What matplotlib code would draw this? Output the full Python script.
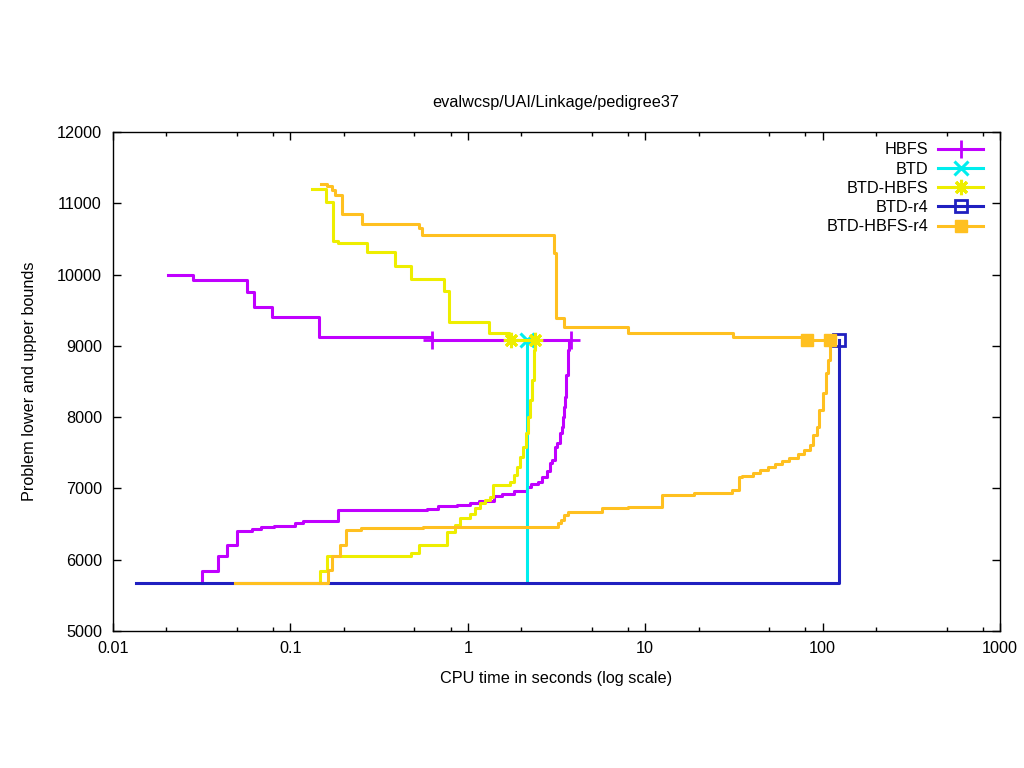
import numpy as np
import matplotlib
matplotlib.use("Agg")
import matplotlib.pyplot as plt
from matplotlib.lines import Line2D
from matplotlib.ticker import LogLocator, FixedLocator, FuncFormatter, NullFormatter

plt.rcParams['font.family'] = ['Liberation Sans', 'DejaVu Sans']

# ---- data (time in s, bound value) ----
hbfs_up_t = [0.0204, 0.0282, 0.0569, 0.0623, 0.0788, 0.145, 0.63, 3.8]
hbfs_up_v = [10000, 9930, 9756, 9545, 9405, 9125, 9083, 9083]
hbfs_lo_t = [0.0317, 0.0317, 0.0391, 0.044, 0.050, 0.0606, 0.068, 0.081, 0.106, 0.118,
             0.186, 0.59, 0.68, 0.87, 1.03, 1.16, 1.40, 1.56, 1.83, 2.17, 2.28, 2.5,
             2.62, 2.78, 2.9, 3.0, 3.1, 3.2, 3.3, 3.4, 3.45, 3.5, 3.55, 3.6, 3.66, 3.74, 3.8]
hbfs_lo_v = [5680, 5843, 6053, 6207, 6404, 6432, 6460, 6474, 6516, 6544,
             6699, 6713, 6755, 6769, 6797, 6825, 6895, 6923, 6965, 7021, 7063, 7091,
             7160, 7245, 7357, 7400, 7582, 7638, 7778, 7862, 8000, 8143, 8283, 8590, 8940, 9083, 9083]
hbfs_mark_t = [0.63, 3.8]

btd_t = [2.16, 2.16]
btd_v = [5675, 9083]
btd_mark_t = [2.16]

bh_up_t = [0.132, 0.158, 0.174, 0.186, 0.27, 0.39, 0.48, 0.73, 0.785, 1.32, 1.70, 2.4]
bh_up_v = [11200, 11020, 10470, 10440, 10320, 10120, 9940, 9770, 9335, 9180, 9083, 9083]
bh_lo_t = [0.147, 0.147, 0.161, 0.48, 0.53, 0.764, 0.847, 0.90, 1.03, 1.10, 1.17, 1.25,
           1.33, 1.38, 1.72, 1.83, 1.89, 1.96, 2.04, 2.12, 2.18, 2.24, 2.29, 2.36, 2.4]
bh_lo_v = [5680, 5843, 6053, 6095, 6207, 6390, 6488, 6586, 6642, 6727, 6797, 6839,
           6881, 7049, 7091, 7190, 7300, 7442, 7582, 7778, 8000, 8240, 8520, 8940, 9083]
bh_mark_t = [1.76, 2.4]

r4_t = [0.0135, 124, 124]
r4_v = [5675, 5675, 9083]
r4_mark_t = [124]

bhr4_up_t = [0.149, 0.16, 0.171, 0.178, 0.195, 0.253, 0.53, 0.55, 3.06, 3.16, 3.5,
             7.98, 31.3, 81.8, 110]
bhr4_up_v = [11270, 11240, 11190, 11120, 10850, 10710, 10654, 10556, 10302, 9391, 9265,
             9180, 9125, 9083, 9083]
bhr4_lo_t = [0.049, 0.163, 0.172, 0.19, 0.206, 0.25, 0.56, 3.22, 3.36, 3.5, 3.65, 5.7,
             8.0, 12.4, 18.9, 30.8, 33.9, 35, 40.4, 44.5, 49.5, 54, 59, 64.6, 72.5, 78.6,
             84.5, 88, 93, 95.5, 101, 104, 107, 110]
bhr4_lo_v = [5675, 5857, 6053, 6207, 6418, 6446, 6460, 6516, 6558, 6628, 6670, 6727,
             6741, 6909, 6937, 6979, 7160, 7175, 7217, 7260, 7302, 7344, 7386, 7428, 7484, 7540,
             7610, 7750, 7862, 8100, 8340, 8620, 8800, 9083]
bhr4_mark_t = [81.8, 110]
mark_v = 9083

x_ticks = [0.01, 0.1, 1, 10, 100, 1000]
y_ticks = [5000, 6000, 7000, 8000, 9000, 10000, 11000, 12000]

c_hbfs = '#c000ff'
c_btd = '#00eeee'
c_bh = '#eeee00'
c_r4 = '#2020c0'
c_bhr4 = '#ffc020'
lw = 2.2
fs = 11.7

fig = plt.figure(figsize=(10.24, 7.68), dpi=100)
ax = fig.add_axes([113 / 1024, 1 - 631 / 768, 887 / 1024, 499 / 768])

# HBFS
ax.plot(hbfs_up_t, hbfs_up_v, color=c_hbfs, lw=lw, drawstyle='steps-post')
ax.plot(hbfs_lo_t, hbfs_lo_v, color=c_hbfs, lw=lw, drawstyle='steps-post')
ax.plot(hbfs_mark_t, [mark_v] * len(hbfs_mark_t), ls='none', marker='+', ms=13,
        mew=2, color=c_hbfs)
# BTD
ax.plot(btd_t, btd_v, color=c_btd, lw=lw)
ax.plot(btd_mark_t, [mark_v], ls='none', marker='x', ms=10, mew=2.2, color=c_btd)
# BTD-HBFS
ax.plot(bh_up_t, bh_up_v, color=c_bh, lw=lw, drawstyle='steps-post')
ax.plot(bh_lo_t, bh_lo_v, color=c_bh, lw=lw, drawstyle='steps-post')
ax.plot(bh_mark_t, [mark_v] * len(bh_mark_t), ls='none', marker=(8, 2, 0), ms=11,
        mew=2.2, color=c_bh)
# BTD-r4
ax.plot(r4_t, r4_v, color=c_r4, lw=lw, drawstyle='steps-post')
ax.plot(r4_mark_t, [mark_v], ls='none', marker='s', ms=8, mew=2, mfc='none', color=c_r4)
# BTD-HBFS-r4
ax.plot(bhr4_up_t, bhr4_up_v, color=c_bhr4, lw=lw, drawstyle='steps-post')
ax.plot(bhr4_lo_t, bhr4_lo_v, color=c_bhr4, lw=lw, drawstyle='steps-post')
ax.plot(bhr4_mark_t, [mark_v] * len(bhr4_mark_t), ls='none', marker='s', ms=9,
        color=c_bhr4)

ax.set_xscale('log')
ax.set_xlim(0.01, 1000)
ax.set_ylim(5000, 12000)
ax.xaxis.set_major_locator(FixedLocator(x_ticks))
ax.xaxis.set_major_formatter(FuncFormatter(lambda v, p: '%g' % v))
ax.xaxis.set_minor_locator(LogLocator(base=10, subs=[2, 5, 8]))
ax.xaxis.set_minor_formatter(NullFormatter())
ax.set_yticks(y_ticks)
ax.tick_params(which='both', direction='in', top=True, right=True, labelsize=fs, width=1)
ax.tick_params(which='major', length=6)
ax.tick_params(which='minor', length=3)
ax.tick_params(axis='y', pad=8)
ax.tick_params(axis='x', pad=7)
for s in ax.spines.values():
    s.set_linewidth(1)

fig.text(556 / 1024, 1 - 102 / 768, 'evalwcsp/UAI/Linkage/pedigree37', ha='center',
         va='center', fontsize=fs)
ax.set_xlabel('CPU time in seconds (log scale)', fontsize=fs)
ax.xaxis.set_label_coords(0.5, -(678 - 631) / 499)
ax.xaxis.label.set_va('center')
ax.set_ylabel('Problem lower and upper bounds', fontsize=fs)
ax.yaxis.set_label_coords(-(113 - 30) / 887, 0.5)
ax.yaxis.label.set_va('center')

handles = [
    Line2D([], [], color=c_hbfs, lw=lw, marker='+', ms=13, mew=2),
    Line2D([], [], color=c_btd, lw=lw, marker='x', ms=10, mew=2.2),
    Line2D([], [], color=c_bh, lw=lw, marker=(8, 2, 0), ms=11, mew=2.2),
    Line2D([], [], color=c_r4, lw=lw, marker='s', ms=8, mew=2, mfc='none'),
    Line2D([], [], color=c_bhr4, lw=lw, marker='s', ms=9),
]
labels = ['HBFS', 'BTD', 'BTD-HBFS', 'BTD-r4', 'BTD-HBFS-r4']
leg = ax.legend(handles, labels, loc='upper right', frameon=False, markerfirst=False,
                numpoints=1, handlelength=2.75, handletextpad=0.62, labelspacing=0.26,
                fontsize=fs, bbox_to_anchor=(0.988, 0.992), borderaxespad=0.0)
for col in leg._legend_handle_box.get_children():
    col.align = 'right'

fig.savefig('out.png', dpi=100)
